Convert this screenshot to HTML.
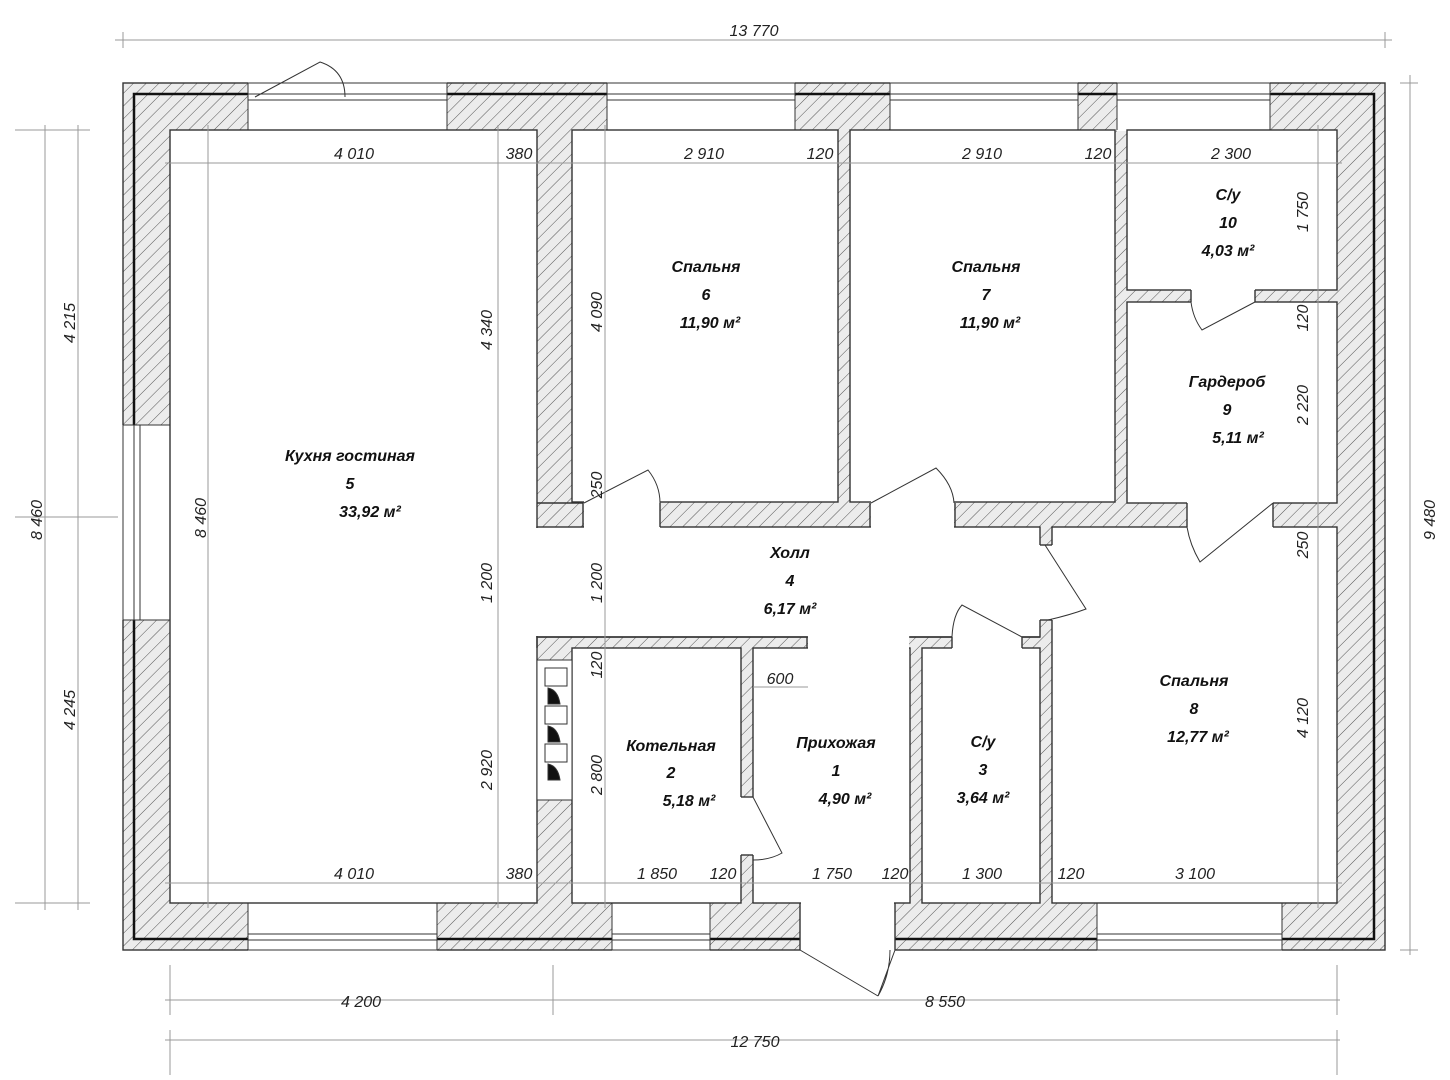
<!DOCTYPE html>
<html><head><meta charset="utf-8"><style>
html,body{margin:0;padding:0;background:#fff}
svg{display:block}
text{font-family:"Liberation Sans",sans-serif;font-style:italic;fill:#111}
.n{font-weight:bold;font-size:16px;text-anchor:middle}
.d{font-size:16px;text-anchor:middle;fill:#222}
.dl{stroke:#999;stroke-width:1;fill:none}
.rm{fill:#fff;stroke:#333;stroke-width:1.4}
.w{fill:#fff;stroke:none}
.dr{fill:none;stroke:#333;stroke-width:1}
</style></head><body>
<svg width="1450" height="1080" viewBox="0 0 1450 1080" xmlns="http://www.w3.org/2000/svg">
<defs>
<pattern id="h" width="9" height="9" patternUnits="userSpaceOnUse" patternTransform="rotate(45)">
<rect width="9" height="9" fill="#ececec"/><line x1="0" y1="0" x2="0" y2="9" stroke="#555" stroke-width="1"/>
</pattern>
</defs>
<!-- outer walls -->
<rect x="123" y="83" width="1262" height="867" fill="url(#h)" stroke="#333" stroke-width="1.4"/>
<rect x="134" y="94" width="1240" height="845" fill="none" stroke="#111" stroke-width="2.5"/>
<!-- windows top -->
<g>
<rect class="w" x="248" y="82" width="199" height="49"/>
<rect class="w" x="607" y="82" width="188" height="49"/>
<rect class="w" x="890" y="82" width="188" height="49"/>
<rect class="w" x="1117" y="82" width="153" height="49"/>
<rect class="w" x="122" y="425" width="49" height="195"/>
<rect class="w" x="248" y="902" width="189" height="49"/>
<rect class="w" x="612" y="902" width="98" height="49"/>
<rect class="w" x="1097" y="902" width="185" height="49"/>
<rect class="w" x="800" y="902" width="95" height="49"/>
</g>
<g fill="none" stroke="#333" stroke-width="1">
<rect x="248" y="94" width="199" height="6"/><rect x="607" y="94" width="188" height="6"/><rect x="890" y="94" width="188" height="6"/><rect x="1117" y="94" width="153" height="6"/>
<rect x="134" y="425" width="6" height="195"/>
<rect x="248" y="934" width="189" height="6"/><rect x="612" y="934" width="98" height="6"/><rect x="1097" y="934" width="185" height="6"/>
<line x1="248" y1="83" x2="447" y2="83"/><line x1="607" y1="83" x2="795" y2="83"/><line x1="890" y1="83" x2="1078" y2="83"/><line x1="1117" y1="83" x2="1270" y2="83"/>
<line x1="123" y1="425" x2="123" y2="620"/>
<line x1="248" y1="950" x2="437" y2="950"/><line x1="612" y1="950" x2="710" y2="950"/><line x1="1097" y1="950" x2="1282" y2="950"/>
<line x1="248" y1="83" x2="248" y2="130"/><line x1="447" y1="83" x2="447" y2="130"/><line x1="607" y1="83" x2="607" y2="130"/><line x1="795" y1="83" x2="795" y2="130"/>
<line x1="890" y1="83" x2="890" y2="130"/><line x1="1078" y1="83" x2="1078" y2="130"/><line x1="1117" y1="83" x2="1117" y2="130"/><line x1="1270" y1="83" x2="1270" y2="130"/>
<line x1="248" y1="903" x2="248" y2="950"/><line x1="437" y1="903" x2="437" y2="950"/><line x1="612" y1="903" x2="612" y2="950"/><line x1="710" y1="903" x2="710" y2="950"/>
<line x1="1097" y1="903" x2="1097" y2="950"/><line x1="1282" y1="903" x2="1282" y2="950"/><line x1="800" y1="903" x2="800" y2="950"/><line x1="895" y1="903" x2="895" y2="950"/>
<line x1="123" y1="425" x2="170" y2="425"/><line x1="123" y1="620" x2="170" y2="620"/>
</g>
<!-- rooms -->
<rect class="rm" x="170" y="130" width="367" height="773"/>
<rect class="rm" x="572" y="130" width="266" height="372"/>
<rect class="rm" x="850" y="130" width="265" height="372"/>
<rect class="rm" x="1127" y="130" width="210" height="160"/>
<rect class="rm" x="1127" y="302" width="210" height="201"/>
<rect class="rm" x="572" y="648" width="169" height="255"/>
<rect class="rm" x="753" y="648" width="157" height="255"/>
<rect class="rm" x="922" y="648" width="118" height="255"/>
<rect class="rm" x="1052" y="527" width="285" height="376"/>
<rect class="rm" x="537" y="527" width="503" height="110"/>
<!-- openings -->
<rect class="w" x="530" y="528" width="14" height="108"/>
<rect class="w" x="808" y="636" width="101" height="13"/>
<rect class="w" x="952" y="636" width="70" height="13"/>
<rect class="w" x="1039" y="545" width="14" height="75"/>
<rect class="w" x="584" y="501" width="76" height="27"/>
<rect class="w" x="871" y="501" width="83" height="27"/>
<rect class="w" x="1187" y="502" width="86" height="26"/>
<rect class="w" x="1191" y="289" width="64" height="14"/>
<rect class="w" x="740" y="797" width="14" height="58"/>
<rect class="w" x="801" y="902" width="93" height="49"/>
<!-- kitchen opening: wall ends -->
<g stroke="#333" stroke-width="1.4" fill="none">
<polyline points="537,503 583,503 583,527"/>
<polyline points="537,648 537,637 807,637 807,648"/>
<polyline points="660,503 660,527"/><polyline points="870,503 870,527"/><polyline points="955,503 955,527"/>
<line x1="1187" y1="503" x2="1187" y2="527"/><line x1="1273" y1="503" x2="1273" y2="527"/>
<line x1="1191" y1="290" x2="1191" y2="302"/><line x1="1255" y1="290" x2="1255" y2="302"/>
<line x1="741" y1="797" x2="753" y2="797"/><line x1="741" y1="855" x2="753" y2="855"/>
<line x1="1040" y1="545" x2="1052" y2="545"/><line x1="1040" y1="620" x2="1052" y2="620"/>
<line x1="952" y1="637" x2="952" y2="648"/><line x1="1022" y1="637" x2="1022" y2="648"/>
<line x1="910" y1="637" x2="952" y2="637"/><line x1="1022" y1="637" x2="1040" y2="637"/>
<line x1="800" y1="903" x2="800" y2="950"/><line x1="895" y1="903" x2="895" y2="950"/>
</g>
<!-- door swings -->
<g class="dr">
<path d="M584,503 L648,470 Q660,485 660,503"/>
<path d="M871,503 L936,468 Q953,485 954,503"/>
<path d="M1273,503 L1200,562 Q1190,545 1187,527"/>
<path d="M1255,302 L1202,330 Q1193,318 1191,302"/>
<path d="M753,797 L782,853 Q770,860 753,860"/>
<path d="M1045,545 L1086,609 Q1070,615 1048,620"/>
<path d="M1022,637 L962,605 Q953,615 952,637"/>
<path d="M895,950 L878,996 Q890,975 890,950 M800,950 L878,996"/>
<path d="M255,97 L320,62 Q345,70 345,97"/>
</g>
<!-- fireplace -->
<g stroke="#333" stroke-width="1" fill="#fff">
<rect x="537" y="660" width="35" height="140"/>
<rect x="545" y="668" width="22" height="18" fill="none"/>
<rect x="545" y="706" width="22" height="18" fill="none"/>
<rect x="545" y="744" width="22" height="18" fill="none"/>
<path d="M548,688 Q558,690 560,704 L548,704Z" fill="#111"/>
<path d="M548,726 Q558,728 560,742 L548,742Z" fill="#111"/>
<path d="M548,764 Q558,766 560,780 L548,780Z" fill="#111"/>
</g>
<!-- dimension lines -->
<g class="dl">
<line x1="115" y1="40" x2="1392" y2="40"/><line x1="123" y1="32" x2="123" y2="48"/><line x1="1385" y1="32" x2="1385" y2="48"/>
<line x1="45" y1="125" x2="45" y2="910"/><line x1="78" y1="125" x2="78" y2="910"/>
<line x1="15" y1="130" x2="90" y2="130"/><line x1="15" y1="517" x2="118" y2="517"/><line x1="15" y1="903" x2="90" y2="903"/>
<line x1="1410" y1="75" x2="1410" y2="955"/><line x1="1400" y1="83" x2="1418" y2="83"/><line x1="1400" y1="950" x2="1418" y2="950"/>
<line x1="165" y1="1000" x2="1340" y2="1000"/><line x1="170" y1="965" x2="170" y2="1015"/><line x1="553" y1="965" x2="553" y2="1015"/><line x1="1337" y1="965" x2="1337" y2="1015"/>
<line x1="165" y1="1040" x2="1340" y2="1040"/><line x1="170" y1="1030" x2="170" y2="1075"/><line x1="1337" y1="1030" x2="1337" y2="1075"/>
<line x1="165" y1="163" x2="1342" y2="163"/>
<line x1="165" y1="883" x2="1342" y2="883"/>
<line x1="208" y1="125" x2="208" y2="908"/>
<line x1="498" y1="125" x2="498" y2="908"/>
<line x1="605" y1="125" x2="605" y2="908"/>
<line x1="1318" y1="125" x2="1318" y2="908"/>
<line x1="753" y1="687" x2="808" y2="687"/>
</g>
<!-- room labels -->
<text class="n" x="350" y="461">Кухня гостиная</text><text class="n" x="350" y="489">5</text><text class="n" x="370" y="517">33,92 м²</text>
<text class="n" x="706" y="272">Спальня</text><text class="n" x="706" y="300">6</text><text class="n" x="710" y="328">11,90 м²</text>
<text class="n" x="986" y="272">Спальня</text><text class="n" x="986" y="300">7</text><text class="n" x="990" y="328">11,90 м²</text>
<text class="n" x="1228" y="200">С/у</text><text class="n" x="1228" y="228">10</text><text class="n" x="1228" y="256">4,03 м²</text>
<text class="n" x="1227" y="387">Гардероб</text><text class="n" x="1227" y="415">9</text><text class="n" x="1238" y="443">5,11 м²</text>
<text class="n" x="790" y="558">Холл</text><text class="n" x="790" y="586">4</text><text class="n" x="790" y="614">6,17 м²</text>
<text class="n" x="671" y="751">Котельная</text><text class="n" x="671" y="778">2</text><text class="n" x="689" y="806">5,18 м²</text>
<text class="n" x="836" y="748">Прихожая</text><text class="n" x="836" y="776">1</text><text class="n" x="845" y="804">4,90 м²</text>
<text class="n" x="983" y="747">С/у</text><text class="n" x="983" y="775">3</text><text class="n" x="983" y="803">3,64 м²</text>
<text class="n" x="1194" y="686">Спальня</text><text class="n" x="1194" y="714">8</text><text class="n" x="1198" y="742">12,77 м²</text>
<!-- dims text -->
<text class="d" x="754" y="36">13 770</text>
<text class="d" x="354" y="159">4 010</text><text class="d" x="519" y="159">380</text>
<text class="d" x="704" y="159">2 910</text><text class="d" x="820" y="159">120</text>
<text class="d" x="982" y="159">2 910</text><text class="d" x="1098" y="159">120</text>
<text class="d" x="1231" y="159">2 300</text>
<text class="d" x="354" y="879">4 010</text><text class="d" x="519" y="879">380</text>
<text class="d" x="657" y="879">1 850</text><text class="d" x="723" y="879">120</text>
<text class="d" x="832" y="879">1 750</text><text class="d" x="895" y="879">120</text>
<text class="d" x="982" y="879">1 300</text><text class="d" x="1071" y="879">120</text>
<text class="d" x="1195" y="879">3 100</text>
<text class="d" x="780" y="684">600</text>
<text class="d" x="361" y="1007">4 200</text><text class="d" x="945" y="1007">8 550</text>
<text class="d" x="755" y="1047">12 750</text>
<g class="d">
<text class="d" transform="translate(75,323) rotate(-90)">4 215</text>
<text class="d" transform="translate(75,710) rotate(-90)">4 245</text>
<text class="d" transform="translate(42,520) rotate(-90)">8 460</text>
<text class="d" transform="translate(206,518) rotate(-90)">8 460</text>
<text class="d" transform="translate(492,330) rotate(-90)">4 340</text>
<text class="d" transform="translate(492,583) rotate(-90)">1 200</text>
<text class="d" transform="translate(492,770) rotate(-90)">2 920</text>
<text class="d" transform="translate(602,312) rotate(-90)">4 090</text>
<text class="d" transform="translate(602,485) rotate(-90)">250</text>
<text class="d" transform="translate(602,583) rotate(-90)">1 200</text>
<text class="d" transform="translate(602,665) rotate(-90)">120</text>
<text class="d" transform="translate(602,775) rotate(-90)">2 800</text>
<text class="d" transform="translate(1308,212) rotate(-90)">1 750</text>
<text class="d" transform="translate(1308,318) rotate(-90)">120</text>
<text class="d" transform="translate(1308,405) rotate(-90)">2 220</text>
<text class="d" transform="translate(1308,545) rotate(-90)">250</text>
<text class="d" transform="translate(1308,718) rotate(-90)">4 120</text>
<text class="d" transform="translate(1435,520) rotate(-90)">9 480</text>
</g>
</svg>
</body></html>
